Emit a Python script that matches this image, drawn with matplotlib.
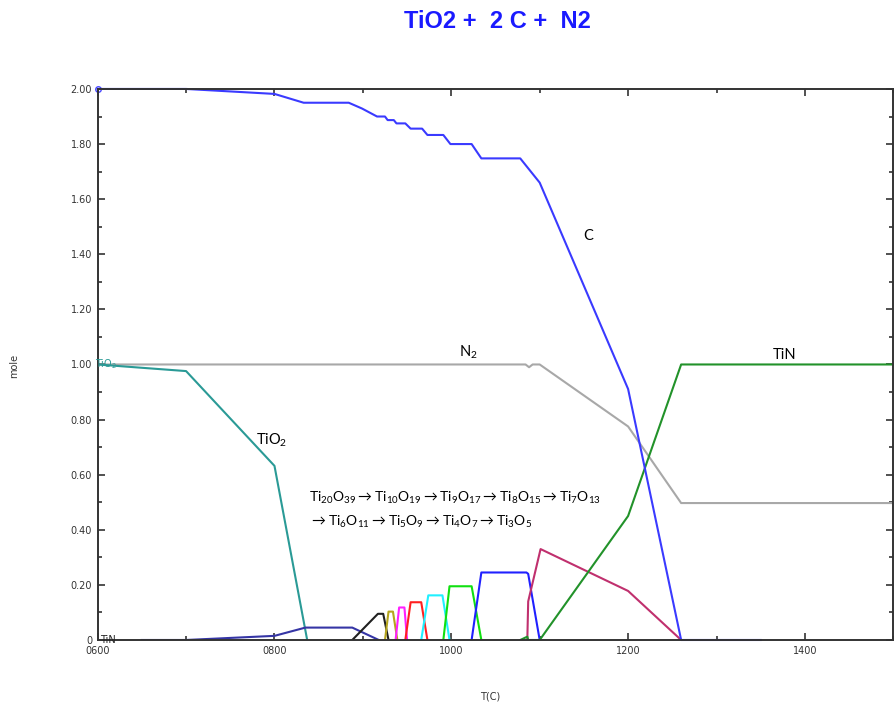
import numpy as np
import matplotlib
matplotlib.use("Agg")
import matplotlib.pyplot as plt
from matplotlib.ticker import MultipleLocator, FixedLocator, FixedFormatter

plt.rcParams["mathtext.fontset"] = "custom"
plt.rcParams["mathtext.rm"] = "Lato"
plt.rcParams["mathtext.default"] = "regular"

# --- data (T in C, amount in mole) ---
c_T = [600, 700, 800, 833, 884, 899, 916, 925, 928, 935, 938, 948, 954, 967,
       973, 991, 999, 1023, 1034, 1078, 1100, 1200, 1260, 1350]
c_mol = [2.00, 2.00, 1.982, 1.95, 1.95, 1.929, 1.90, 1.90, 1.887, 1.887, 1.875,
         1.875, 1.856, 1.856, 1.833, 1.833, 1.80, 1.80, 1.748, 1.748, 1.66,
         0.911, 0.0, 0.0]

n2_T = [600, 1084, 1088, 1092, 1100, 1200, 1260, 1500]
n2_mol = [1.00, 1.00, 0.99, 1.00, 1.00, 0.775, 0.497, 0.497]

tin_T = [1078, 1086, 1087, 1100, 1200, 1260, 1500]
tin_mol = [0.0, 0.012, 0.0, 0.0, 0.45, 1.00, 1.00]

tio2_T = [600, 700, 800, 837]
tio2_mol = [1.00, 0.976, 0.632, 0.0]

# Magneli phases Ti20O39 ... Ti3O5 and the last oxide
ti20o39_T = [650, 700, 800, 835, 888, 918]
ti20o39_mol = [0.0, 0.0, 0.015, 0.045, 0.045, 0.0]
ti10o19_T = [888, 917, 923, 929]
ti10o19_mol = [0.0, 0.095, 0.095, 0.0]
ti9o17_T = [925, 929, 934, 939]
ti9o17_mol = [0.0, 0.103, 0.103, 0.0]
ti8o15_T = [937, 941, 947, 950]
ti8o15_mol = [0.0, 0.118, 0.118, 0.0]
ti7o13_T = [948, 954, 966, 973]
ti7o13_mol = [0.0, 0.137, 0.137, 0.0]
ti6o11_T = [966, 974, 990, 998]
ti6o11_mol = [0.0, 0.162, 0.162, 0.0]
ti5o9_T = [991, 998, 1023, 1034]
ti5o9_mol = [0.0, 0.195, 0.195, 0.0]
ti4o7_T = [1023, 1034, 1085, 1087, 1100]
ti4o7_mol = [0.0, 0.245, 0.245, 0.24, 0.0]
ti3o5_T = [1086, 1087, 1101, 1200, 1260]
ti3o5_mol = [0.0, 0.14, 0.33, 0.178, 0.0]

x_ticks = [600, 800, 1000, 1200, 1400]
x_labels = ["0600", "0800", "1000", "1200", "1400"]
y_ticks = [0, 0.2, 0.4, 0.6, 0.8, 1.0, 1.2, 1.4, 1.6, 1.8, 2.0]
y_labels = ["0", "0.20", "0.40", "0.60", "0.80", "1.00", "1.20", "1.40",
            "1.60", "1.80", "2.00"]


def main():
    fig = plt.figure(figsize=(8.96, 7.06), dpi=100)
    ax = fig.add_axes([0.109, 0.0935, 0.888, 0.7805])
    lw = 1.5

    ax.plot(n2_T, n2_mol, color="#a8a8a8", lw=lw)
    ax.plot(tio2_T, tio2_mol, color="#2a9a96", lw=lw)
    ax.plot(ti20o39_T, ti20o39_mol, color="#3535a5", lw=lw)
    ax.plot(ti10o19_T, ti10o19_mol, color="#202020", lw=lw)
    ax.plot(ti9o17_T, ti9o17_mol, color="#b5a51e", lw=lw)
    ax.plot(ti8o15_T, ti8o15_mol, color="#ff20ff", lw=lw)
    ax.plot(ti7o13_T, ti7o13_mol, color="#ff2020", lw=lw)
    ax.plot(ti6o11_T, ti6o11_mol, color="#20f0ff", lw=lw)
    ax.plot(ti5o9_T, ti5o9_mol, color="#10e010", lw=lw)
    ax.plot(ti4o7_T, ti4o7_mol, color="#2020ff", lw=lw)
    ax.plot(ti3o5_T, ti3o5_mol, color="#c0306e", lw=lw)
    ax.plot(tin_T, tin_mol, color="#22922a", lw=lw)
    ax.plot(c_T, c_mol, color="#3a3aff", lw=lw, clip_on=False)
    ax.plot([600], [2.0], marker="o", ms=4, mfc="none", mec="#4a4aff",
            clip_on=False)

    ax.set_xlim(600, 1500)
    ax.set_ylim(0, 2.0)

    ax.xaxis.set_major_locator(FixedLocator(x_ticks))
    ax.xaxis.set_major_formatter(FixedFormatter(x_labels))
    ax.xaxis.set_minor_locator(MultipleLocator(100))
    ax.yaxis.set_major_locator(FixedLocator(y_ticks))
    ax.yaxis.set_major_formatter(FixedFormatter(y_labels))
    ax.yaxis.set_minor_locator(MultipleLocator(0.1))
    ax.tick_params(which="both", direction="in", top=True, right=True,
                   width=1.2, color="#333333", labelsize=7,
                   labelcolor="#333333")
    ax.tick_params(which="major", length=5, pad=4)
    ax.tick_params(which="minor", length=3)
    for s in ax.spines.values():
        s.set_color("#333333")
        s.set_linewidth(1.4)

    fig.text(0.016, 0.482, "mole", rotation=90, fontsize=7, color="#333333",
             ha="center", va="center")
    fig.text(0.547, 0.013, "T(C)", fontsize=7, color="#333333",
             ha="center", va="center")
    fig.text(0.555, 0.970, "TiO2 +  2 C +  N2", fontsize=17, color="#1a1aff",
             fontweight="bold", family="Liberation Sans", ha="center",
             va="center")

    # labels inside the plot
    tk = dict(fontsize=10.5, family="Lato", color="black")
    ax.text(1149, 1.45, "C", **tk)
    ax.text(1009, 1.03, "N$_2$", **tk)
    ax.text(1364, 1.02, "TiN", **tk)
    ax.text(779, 0.71, "TiO$_2$", **tk)
    arr = r"$\rightarrow$"
    rk = dict(tk, fontsize=10)
    ax.text(839, 0.50, "Ti$_{20}$O$_{39}$" + arr + "Ti$_{10}$O$_{19}$" + arr
            + "Ti$_9$O$_{17}$" + arr + "Ti$_8$O$_{15}$" + arr + "Ti$_7$O$_{13}$",
            **rk)
    ax.text(839, 0.415, arr + "Ti$_6$O$_{11}$" + arr + "Ti$_5$O$_9$"
            + arr + "Ti$_4$O$_7$" + arr + "Ti$_3$O$_5$", **rk)
    ax.text(597, 1.0, "TiO$_2$", fontsize=7, color="#2a9a96", va="center")
    ax.text(603, 0.0, "TiN", fontsize=7, color="#222222", va="center")

    fig.savefig("out.png", dpi=100)


if __name__ == "__main__":
    main()
